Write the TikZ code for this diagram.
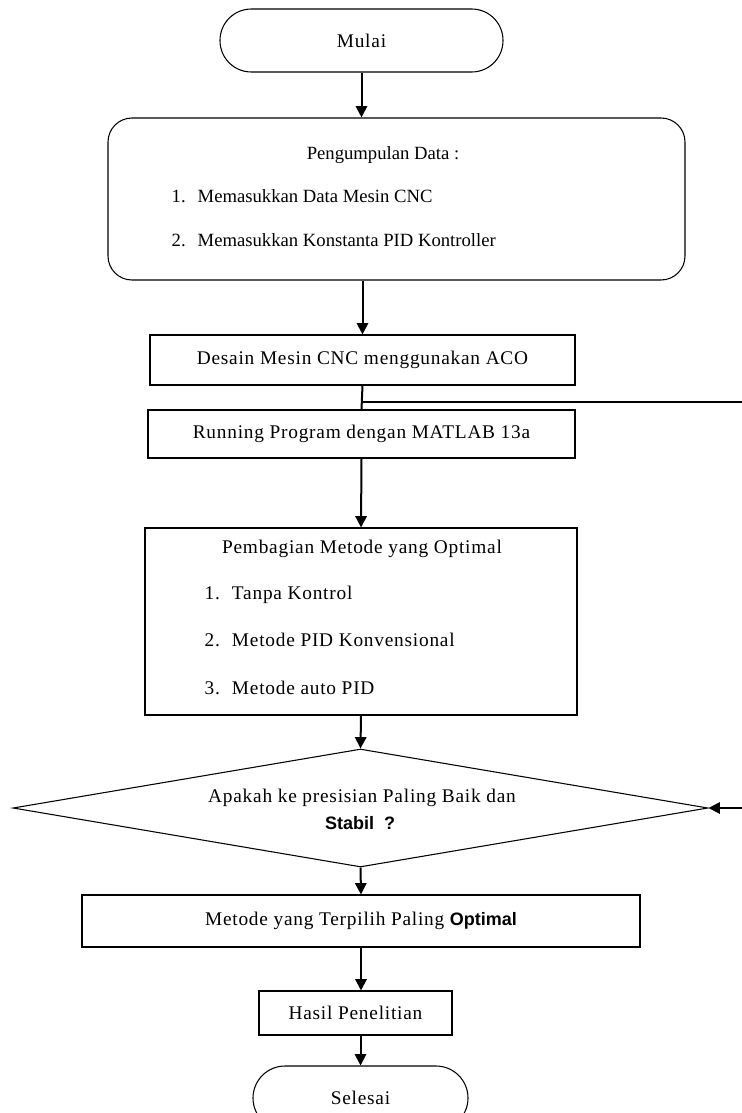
\documentclass[tikz,border=0pt]{standalone}
\usepackage{fontspec}
\setmainfont{Liberation Serif}[LetterSpace=4]
\setsansfont{Liberation Sans}
\newfontfamily\datafont{Liberation Serif}
\usetikzlibrary{arrows.meta,shapes.geometric}

\begin{document}
\begin{tikzpicture}[x=0.75pt,y=-0.75pt,
    font=\fontsize{14.5}{17}\selectfont,
    box/.style={draw,line width=0.8pt,inner sep=0pt},
    terminal/.style={box,rounded corners=23.5pt},
    datatext/.style={font=\datafont\fontsize{14}{16}\selectfont},
    tebal/.style={font=\sffamily\bfseries\fontsize{13.5}{16}\selectfont},
    flow/.style={line width=1.5pt,-{Triangle[length=8.5pt,width=8.5pt]}}]
    \useasboundingbox (0,0) rectangle (742,1113);
    \node[terminal,minimum width=212.25pt,minimum height=47.25pt] (mulai) at (361.5,40.5) {Mulai};
    \node[box,rounded corners=18pt,minimum width=432.75pt,minimum height=121.5pt] (data) at (396.5,199) {};
    \node[datatext] (datajudul) at (383,155) {Pengumpulan Data :};
    \node[datatext,anchor=west] (data1) at (167,196) {1.\hspace{9pt}Memasukkan Data Mesin CNC};
    \node[datatext,anchor=west] (data2) at (167,240) {2.\hspace{9pt}Memasukkan Konstanta PID Kontroller};
    \node[box,minimum width=318.75pt,minimum height=37.5pt] (desain) at (362.5,360) {Desain Mesin CNC menggunakan ACO};
    \node[box,minimum width=320.25pt,minimum height=36pt] (running) at (361.5,434) {Running Program dengan MATLAB 13a};
    \node[box,minimum width=324pt,minimum height=140.25pt] (metode) at (361,621.5) {};
    \node (metodejudul) at (362,549) {Pembagian Metode yang Optimal};
    \node[anchor=west] (metode1) at (200,595) {1.\hspace{9pt}Tanpa Kontrol};
    \node[anchor=west] (metode2) at (200,640) {2.\hspace{9pt}Metode PID Konvensional};
    \node[anchor=west] (metode3) at (200,688) {3.\hspace{9pt}Metode auto PID};
    \node[diamond,box,minimum width=521.25pt,minimum height=88.5pt] (tanya) at (360.5,808) {};
    \node (tanya1) at (362,798) {Apakah ke presisian Paling Baik dan};
    \node[tebal] (tanya2) at (360,823) {Stabil\ \ ?};
    \node[box,minimum width=418.5pt,minimum height=39pt] (terpilih) at (361,921) {Metode yang Terpilih Paling {\sffamily\bfseries\fontsize{13.5}{16}\selectfont Optimal}};
    \node[box,minimum width=144.75pt,minimum height=33pt] (hasil) at (355.5,1013) {Hasil Penelitian};
    \node[terminal,rounded corners=24pt,minimum width=161.25pt,minimum height=48pt] (selesai) at (360.5,1098) {Selesai};
    \coordinate (cabang) at (362.5,402);
    \coordinate (balik1) at (750,402);
    \coordinate (balik2) at (750,808);
    \draw[flow] (mulai.south) -- (mulai.south |- data.north);
    \draw[flow] (desain.north |- data.south) -- (desain.north);
    \draw[line width=1.5pt] (desain.south) -- (running.north);
    \draw[flow] (running.south) -- (metode.north);
    \draw[flow] (metode.south) -- (tanya.north);
    \draw[flow] (cabang) -- (balik1) -- (balik2) -- (tanya.east);
    \draw[flow] (tanya.south) -- (terpilih.north);
    \draw[flow] (terpilih.south) -- (terpilih.south |- hasil.north);
    \draw[flow] (selesai.north |- hasil.south) -- (selesai.north);
\end{tikzpicture}
\end{document}
